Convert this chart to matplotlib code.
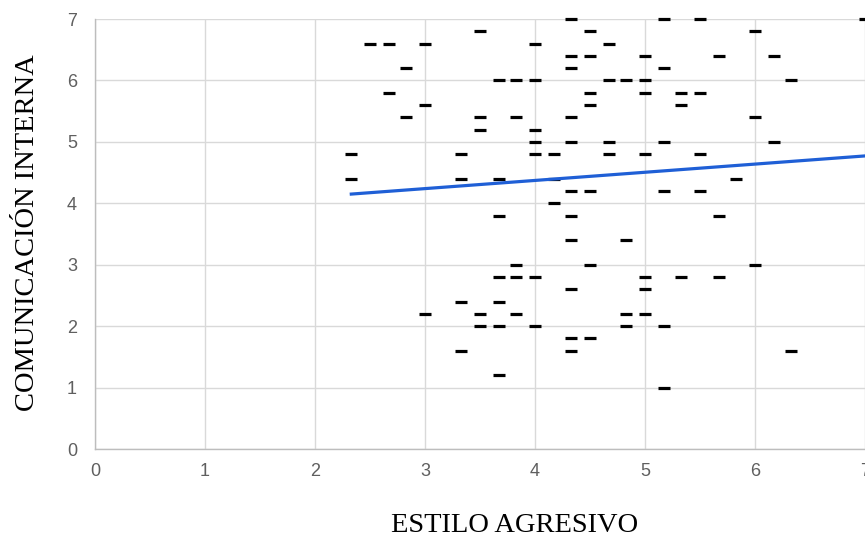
import numpy as np
import matplotlib
matplotlib.use('Agg')
import matplotlib.pyplot as plt

# puntos (una fila por nivel de comunicacion interna)
estilo_agresivo = [
    4.33, 5.17, 5.5, 7.0,
    3.5, 4.5, 6.0,
    2.5, 2.67, 3.0, 4.0, 4.67,
    4.33, 4.5, 5.0, 5.67, 6.17,
    2.83, 4.33, 5.17,
    3.67, 3.83, 4.0, 4.67, 4.83, 5.0, 6.33,
    2.67, 4.5, 5.0, 5.33, 5.5,
    3.0, 4.5, 5.33,
    2.83, 3.5, 3.83, 4.33, 6.0,
    3.5, 4.0,
    4.0, 4.33, 4.67, 5.17, 6.17,
    2.33, 3.33, 4.0, 4.17, 4.67, 5.0, 5.5,
    2.33, 3.33, 3.67, 4.17, 5.83,
    4.33, 4.5, 5.17, 5.5,
    4.17,
    3.67, 4.33, 5.67,
    4.33, 4.83,
    3.83, 4.5, 6.0,
    3.67, 3.83, 4.0, 5.0, 5.33, 5.67,
    4.33, 5.0,
    3.33, 3.67,
    3.0, 3.5, 3.83, 4.83, 5.0,
    3.5, 3.67, 4.0, 4.83, 5.17,
    4.33, 4.5,
    3.33, 4.33, 6.33,
    3.67,
    5.17,
]
comunicacion_interna = (
    [7.0] * 4 + [6.8] * 3 + [6.6] * 5 + [6.4] * 5 + [6.2] * 3 + [6.0] * 7
    + [5.8] * 5 + [5.6] * 3 + [5.4] * 5 + [5.2] * 2 + [5.0] * 5 + [4.8] * 7
    + [4.4] * 5 + [4.2] * 4 + [4.0] * 1 + [3.8] * 3 + [3.4] * 2 + [3.0] * 3
    + [2.8] * 6 + [2.6] * 2 + [2.4] * 2 + [2.2] * 5 + [2.0] * 5 + [1.8] * 2
    + [1.6] * 3 + [1.2] * 1 + [1.0] * 1
)

# linea de tendencia
trend_slope = 0.133
trend_intercept = 3.84

ticks = [0, 1, 2, 3, 4, 5, 6, 7]

fig = plt.figure(figsize=(8.65, 5.4), dpi=100)
ax = fig.add_axes([95 / 865, 1 - 449 / 540, 770 / 865, 430 / 540])

ax.plot(estilo_agresivo, comunicacion_interna, linestyle='none', marker='_',
        markersize=9, markeredgewidth=2.3, color='black', clip_on=False, zorder=3)

x_trend = np.array([min(estilo_agresivo), max(estilo_agresivo)])
ax.plot(x_trend, trend_intercept + trend_slope * x_trend, color='#1f5fd6',
        linewidth=2.3, zorder=4, clip_on=False)

ax.set_xlim(0, 7)
ax.set_ylim(0, 7)
ax.set_xticks(ticks)
ax.set_yticks(ticks)
ax.grid(True, color='#d9d9d9', linewidth=1)
ax.set_axisbelow(True)
for side in ['top', 'right']:
    ax.spines[side].set_visible(False)
for side in ['left', 'bottom']:
    ax.spines[side].set_color('#bdbdbd')
    ax.spines[side].set_linewidth(1)

tick_font = ['Liberation Sans Narrow', 'Liberation Sans', 'DejaVu Sans']
ax.tick_params(length=0, colors='#5f5f5f', labelsize=13)
ax.tick_params(axis='y', pad=13)
ax.tick_params(axis='x', pad=10)
for lab in ax.get_xticklabels() + ax.get_yticklabels():
    lab.set_family(tick_font)

ax.set_xlabel('ESTILO AGRESIVO', family=['Liberation Serif', 'DejaVu Serif'],
              fontsize=20.5, color='black')
ax.xaxis.set_label_coords(0.545, -0.150)
ax.set_ylabel('COMUNICACIÓN INTERNA', family=['Liberation Serif', 'DejaVu Serif'],
              fontsize=20.5, color='black')
ax.yaxis.set_label_coords(-0.072, 0.503)

fig.savefig('out.png', dpi=100)
